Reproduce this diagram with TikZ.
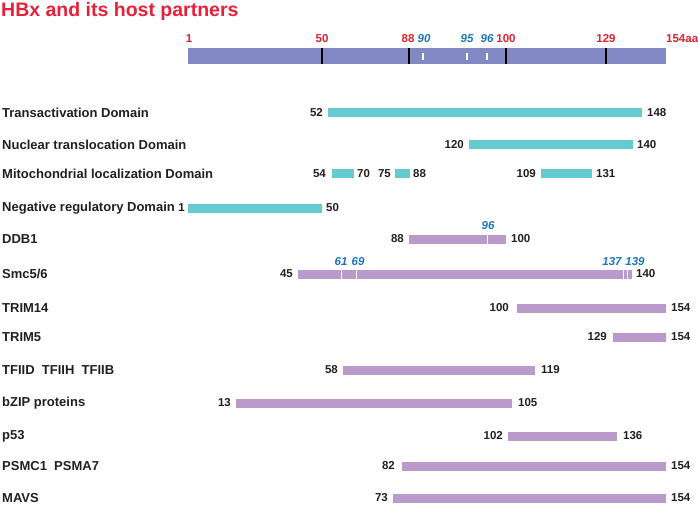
\documentclass[tikz,border=0pt]{standalone}
\usepackage{fontspec}
\setmainfont{Liberation Sans}
\usepackage{xcolor}
\usepackage{tikz}
\definecolor{hbxblue}{HTML}{8188C3}
\definecolor{domcyan}{HTML}{66CAD2}
\definecolor{bindpurple}{HTML}{BA9ACB}
\definecolor{posred}{HTML}{D9232F}
\definecolor{titlered}{HTML}{E8203A}
\definecolor{siteblue}{HTML}{1C75BC}
\definecolor{txtdark}{HTML}{231F20}

\begin{document}
\begin{tikzpicture}[x=1pt,y=-1pt,
    every node/.style={inner sep=0pt,text=txtdark},
    rowname/.style={anchor=west,font=\fontsize{13}{15}\selectfont\bfseries},
    num/.style={font=\fontsize{11.5}{13}\selectfont\bfseries},
    aapos/.style={font=\fontsize{11.5}{13}\selectfont\bfseries,text=posred},
    site/.style={font=\fontsize{11.5}{13}\selectfont\bfseries\itshape,text=siteblue},
    dom/.style={fill=domcyan},
    bind/.style={fill=bindpurple},
    sitecut/.style={white,line width=1pt}]
    \useasboundingbox (0,0) rectangle (698,505);
    % title
    \node[anchor=west,font=\fontsize{19.5}{22}\selectfont\bfseries,text=titlered] (title) at (1,11) {HBx and its host partners};
    % HBx protein
    \fill[hbxblue] (188,48) rectangle (666,64);
    \draw[line width=1.8pt] (322,48) -- (322,64) (409,48) -- (409,64) (506,48) -- (506,64) (606,48) -- (606,64);
    \draw[white,line width=1.2pt] (423,53) -- (423,60) (467,53) -- (467,60) (487,53) -- (487,60);
    \node[aapos] (p1) at (189,39) {1};
    \node[aapos] (p50) at (322,39) {50};
    \node[aapos] (p88) at (408,39) {88};
    \node[site] (s90) at (424,39) {90};
    \node[site] (s95) at (467,39) {95};
    \node[site] (s96) at (487,39) {96};
    \node[aapos] (p100) at (506,39) {100};
    \node[aapos] (p129) at (606,39) {129};
    \node[aapos,anchor=west] (p154) at (666,39) {154aa};

    % functional domains
    \node[rowname] (ta) at (2,113) {Transactivation Domain};
    \fill[dom] (328,108.5) rectangle (642,117.5);
    \node[num,anchor=east] (ta-a) at (323,113) {52};
    \node[num,anchor=west] (ta-b) at (647,113) {148};

    \node[rowname] (nt) at (2,145) {Nuclear translocation Domain};
    \fill[dom] (469,140.5) rectangle (633,149.5);
    \node[num,anchor=east] (nt-a) at (464,145) {120};
    \node[num,anchor=west] (nt-b) at (637,145) {140};

    \node[rowname] (ml) at (2,174) {Mitochondrial localization Domain};
    \fill[dom] (332,169.5) rectangle (354,178.5);
    \fill[dom] (395,169.5) rectangle (410,178.5);
    \fill[dom] (541,169.5) rectangle (592,178.5);
    \node[num,anchor=east] (ml-a) at (326,174) {54};
    \node[num,anchor=west] (ml-b) at (357,174) {70};
    \node[num,anchor=east] (ml-c) at (391,174) {75};
    \node[num,anchor=west] (ml-d) at (413,174) {88};
    \node[num,anchor=east] (ml-e) at (536,174) {109};
    \node[num,anchor=west] (ml-f) at (596,174) {131};

    \node[rowname] (nr) at (2,208) {Negative regulatory Domain};
    \fill[dom] (188,203.5) rectangle (322,212.5);
    \node[num,anchor=east] (nr-a) at (185,208) {1};
    \node[num,anchor=west] (nr-b) at (326,208) {50};

    % host partners
    \node[rowname] (ddb) at (2,239) {DDB1};
    \fill[bind] (409,234.5) rectangle (506,243.5);
    \draw[sitecut] (487,234.5) -- (487,243.5);
    \node[site] (ddb-s) at (488,226) {96};
    \node[num,anchor=east] (ddb-a) at (404,239) {88};
    \node[num,anchor=west] (ddb-b) at (511,239) {100};

    \node[rowname] (smc) at (2,274) {Smc5/6};
    \fill[bind] (298,269.5) rectangle (632,278.5);
    \draw[sitecut] (341,269.5) -- (341,278.5) (356,269.5) -- (356,278.5) (623,269.5) -- (623,278.5) (627,269.5) -- (627,278.5);
    \node[site] (smc-s1) at (341,262) {61};
    \node[site] (smc-s2) at (358,262) {69};
    \node[site] (smc-s3) at (612,262) {137};
    \node[site] (smc-s4) at (635,262) {139};
    \node[num,anchor=east] (smc-a) at (293,274) {45};
    \node[num,anchor=west] (smc-b) at (636,274) {140};

    \node[rowname] (t14) at (2,308) {TRIM14};
    \fill[bind] (517,303.5) rectangle (666,312.5);
    \node[num,anchor=east] (t14-a) at (509,308) {100};
    \node[num,anchor=west] (t14-b) at (671,308) {154};

    \node[rowname] (t5) at (2,337) {TRIM5};
    \fill[bind] (613,332.5) rectangle (666,341.5);
    \node[num,anchor=east] (t5-a) at (607,337) {129};
    \node[num,anchor=west] (t5-b) at (671,337) {154};

    \node[rowname] (tf) at (2,370) {TFIID\ \ TFIIH\ \ TFIIB};
    \fill[bind] (343,365.5) rectangle (535,374.5);
    \node[num,anchor=east] (tf-a) at (338,370) {58};
    \node[num,anchor=west] (tf-b) at (541,370) {119};

    \node[rowname] (bz) at (2,403) {bZIP proteins};
    \fill[bind] (236,398.5) rectangle (512,407.5);
    \node[num,anchor=east] (bz-a) at (231,403) {13};
    \node[num,anchor=west] (bz-b) at (518,403) {105};

    \node[rowname] (p53) at (2,436) {p53};
    \fill[bind] (508,431.5) rectangle (617,440.5);
    \node[num,anchor=east] (p53-a) at (503,436) {102};
    \node[num,anchor=west] (p53-b) at (623,436) {136};

    \node[rowname] (ps) at (2,466) {PSMC1\ \ PSMA7};
    \fill[bind] (402,461.5) rectangle (666,470.5);
    \node[num,anchor=east] (ps-a) at (395,466) {82};
    \node[num,anchor=west] (ps-b) at (671,466) {154};

    \node[rowname] (mv) at (2,498) {MAVS};
    \fill[bind] (393,493.5) rectangle (666,502.5);
    \node[num,anchor=east] (mv-a) at (388,498) {73};
    \node[num,anchor=west] (mv-b) at (671,498) {154};
\end{tikzpicture}
\end{document}
